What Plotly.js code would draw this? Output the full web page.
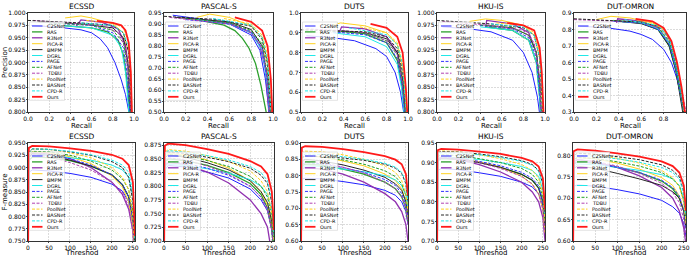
<!DOCTYPE html>
<html>
<head>
<meta charset="utf-8">
<script src="https://cdn.plot.ly/plotly-3.0.1.min.js"></script>
<style>html,body{margin:0;padding:0;background:#fff}#chart{width:690px;height:257px}svg text{-webkit-font-smoothing:grayscale;}</style>
</head>
<body>
<div id="chart"></div>
<script>
// ---------------- DATA ----------------
const methods = ['C2SNet','RAS','R3Net','PiCA-R','BMPM','DGRL','PAGE','AFNet','TDBU','PoolNet','BASNet','CPD-R','Ours'];
const datasets = ['ECSSD','PASCAL-S','DUTS','HKU-IS','DUT-OMRON'];

// PR curves: per method [recall[], precision[]]
const prECSSD = [
  [[0.03,0.3,0.5,0.6,0.68,0.75,0.82,0.88,0.92,0.95,0.97],[0.975,0.971,0.966,0.96,0.948,0.93,0.9,0.865,0.835,0.805,0.78]],
  [[0.3,0.6,0.75,0.85,0.9,0.93,0.95,0.96],[0.975,0.97,0.962,0.945,0.915,0.87,0.82,0.78]],
  [[0.45,0.5,0.7,0.85,0.92,0.95,0.965,0.97],[0.972,0.986,0.981,0.968,0.935,0.885,0.82,0.78]],
  [[0.35,0.5,0.6,0.8,0.9,0.95,0.97,0.98],[0.99,0.994,0.99,0.978,0.96,0.92,0.85,0.78]],
  [[0.1,0.5,0.8,0.9,0.94,0.96,0.97],[0.982,0.978,0.97,0.95,0.9,0.82,0.78]],
  [[0.3,0.6,0.8,0.88,0.92,0.95,0.96],[0.975,0.97,0.955,0.93,0.88,0.8,0.78]],
  [[0.2,0.6,0.8,0.9,0.94,0.96,0.965],[0.98,0.975,0.96,0.93,0.87,0.8,0.78]],
  [[0.2,0.6,0.8,0.9,0.95,0.965,0.97],[0.98,0.976,0.965,0.94,0.88,0.8,0.78]],
  [[0.05,0.4,0.7,0.85,0.92,0.96,0.97,0.975],[0.985,0.98,0.975,0.96,0.93,0.85,0.8,0.78]],
  [[0.55,0.8,0.9,0.95,0.97,0.98,0.985],[0.985,0.98,0.97,0.94,0.88,0.8,0.78]],
  [[0.0,0.5,0.8,0.9,0.95,0.97,0.975,0.98],[0.985,0.98,0.975,0.96,0.92,0.85,0.8,0.78]],
  [[0.5,0.8,0.9,0.95,0.97,0.98,0.985],[0.98,0.975,0.96,0.93,0.87,0.8,0.78]],
  [[0.65,0.8,0.88,0.92,0.95,0.97,0.98,0.985],[0.984,0.98,0.975,0.965,0.94,0.88,0.8,0.78]]
];
const prPASCAL = [
  [[0.08,0.3,0.6,0.8,0.88,0.93,0.96,0.965],[0.94,0.925,0.9,0.85,0.78,0.65,0.52,0.48]],
  [[0.3,0.55,0.65,0.72,0.78,0.84,0.89,0.93,0.945],[0.92,0.895,0.87,0.835,0.79,0.72,0.62,0.52,0.48]],
  [[0.35,0.6,0.8,0.88,0.93,0.96,0.965],[0.92,0.905,0.86,0.8,0.7,0.52,0.48]],
  [[0.3,0.42,0.6,0.8,0.9,0.95,0.98,0.985],[0.93,0.945,0.93,0.89,0.84,0.72,0.52,0.48]],
  [[0.1,0.6,0.8,0.9,0.95,0.97,0.975],[0.93,0.91,0.875,0.8,0.65,0.52,0.48]],
  [[0.3,0.6,0.8,0.9,0.95,0.965,0.97],[0.92,0.9,0.86,0.78,0.62,0.52,0.48]],
  [[0.2,0.6,0.8,0.9,0.95,0.965,0.97],[0.92,0.9,0.865,0.79,0.63,0.52,0.48]],
  [[0.2,0.6,0.8,0.9,0.95,0.97,0.975],[0.925,0.905,0.87,0.81,0.67,0.52,0.48]],
  [[0.05,0.6,0.8,0.9,0.95,0.97,0.975],[0.93,0.9,0.86,0.79,0.65,0.52,0.48]],
  [[0.55,0.8,0.9,0.95,0.98,0.985,0.99],[0.925,0.9,0.85,0.76,0.55,0.5,0.48]],
  [[0.0,0.5,0.8,0.9,0.95,0.98,0.985],[0.935,0.92,0.89,0.83,0.72,0.52,0.48]],
  [[0.45,0.8,0.9,0.95,0.98,0.985],[0.925,0.895,0.84,0.74,0.52,0.48]],
  [[0.65,0.8,0.9,0.95,0.98,0.99,0.995],[0.93,0.91,0.87,0.8,0.65,0.52,0.48]]
];
const prDUTS = [
  [[0.05,0.3,0.5,0.7,0.8,0.88,0.93,0.96,0.965],[0.885,0.875,0.86,0.82,0.78,0.7,0.6,0.52,0.48]],
  [[0.35,0.6,0.8,0.9,0.94,0.965,0.97],[0.91,0.895,0.85,0.76,0.65,0.52,0.48]],
  [[0.36,0.38,0.6,0.8,0.9,0.95,0.97,0.975],[0.905,0.93,0.92,0.88,0.8,0.65,0.52,0.48]],
  [[0.3,0.37,0.6,0.8,0.9,0.95,0.98,0.985],[0.94,0.95,0.935,0.9,0.84,0.72,0.52,0.48]],
  [[0.38,0.6,0.8,0.9,0.95,0.97,0.975],[0.91,0.9,0.87,0.8,0.66,0.52,0.48]],
  [[0.3,0.6,0.8,0.9,0.94,0.96,0.965],[0.9,0.88,0.83,0.74,0.62,0.52,0.48]],
  [[0.3,0.6,0.8,0.9,0.95,0.965,0.97],[0.905,0.89,0.85,0.77,0.62,0.52,0.48]],
  [[0.25,0.6,0.8,0.9,0.95,0.97,0.975],[0.91,0.9,0.86,0.79,0.66,0.52,0.48]],
  [[0.05,0.4,0.6,0.8,0.9,0.95,0.97,0.975],[0.92,0.91,0.9,0.86,0.79,0.65,0.52,0.48]],
  [[0.55,0.8,0.9,0.95,0.98,0.985,0.99],[0.93,0.9,0.85,0.75,0.55,0.5,0.48]],
  [[0.0,0.4,0.6,0.8,0.9,0.95,0.975,0.98],[0.915,0.91,0.905,0.88,0.82,0.7,0.52,0.48]],
  [[0.45,0.8,0.9,0.95,0.98,0.985],[0.925,0.89,0.84,0.74,0.52,0.48]],
  [[0.65,0.8,0.9,0.95,0.98,0.99,0.995],[0.945,0.925,0.88,0.8,0.62,0.52,0.48]]
];
const prHKU = [
  [[0.05,0.3,0.5,0.7,0.8,0.88,0.93,0.95,0.96],[0.972,0.968,0.962,0.945,0.92,0.88,0.83,0.8,0.78]],
  [[0.45,0.7,0.85,0.92,0.95,0.96,0.965],[0.972,0.965,0.945,0.9,0.83,0.8,0.78]],
  [[0.45,0.46,0.7,0.85,0.92,0.95,0.96,0.965],[0.97,0.985,0.978,0.96,0.92,0.86,0.8,0.78]],
  [[0.3,0.45,0.6,0.8,0.9,0.95,0.97,0.98,0.985],[0.983,0.988,0.985,0.975,0.955,0.91,0.85,0.8,0.78]],
  [[0.45,0.7,0.85,0.92,0.95,0.965,0.97],[0.975,0.97,0.955,0.92,0.86,0.8,0.78]],
  [[0.4,0.7,0.85,0.92,0.95,0.96,0.965],[0.972,0.965,0.945,0.9,0.83,0.8,0.78]],
  [[0.4,0.7,0.85,0.92,0.95,0.965,0.97],[0.975,0.968,0.95,0.91,0.84,0.8,0.78]],
  [[0.4,0.7,0.85,0.92,0.955,0.965,0.97],[0.976,0.97,0.955,0.92,0.85,0.8,0.78]],
  [[0.05,0.5,0.8,0.9,0.95,0.965,0.97],[0.983,0.975,0.965,0.94,0.87,0.8,0.78]],
  [[0.55,0.8,0.9,0.95,0.975,0.985,0.99],[0.98,0.975,0.96,0.92,0.85,0.8,0.78]],
  [[0.0,0.5,0.8,0.9,0.95,0.975,0.98,0.985],[0.985,0.978,0.97,0.955,0.91,0.83,0.8,0.78]],
  [[0.5,0.8,0.9,0.95,0.975,0.985,0.99],[0.978,0.972,0.955,0.91,0.84,0.8,0.78]],
  [[0.65,0.8,0.9,0.95,0.97,0.985,0.99],[0.98,0.975,0.965,0.93,0.88,0.8,0.78]]
];
const prOMRON = [
  [[0.05,0.3,0.5,0.6,0.7,0.8,0.87,0.92,0.96,0.98,0.985],[0.82,0.81,0.79,0.77,0.74,0.68,0.6,0.5,0.38,0.3,0.28]],
  [[0.4,0.6,0.75,0.85,0.91,0.95,0.98,0.985],[0.85,0.84,0.8,0.7,0.55,0.4,0.3,0.28]],
  [[0.38,0.39,0.6,0.75,0.85,0.92,0.96,0.98,0.985],[0.84,0.865,0.85,0.81,0.72,0.55,0.4,0.3,0.28]],
  [[0.2,0.33,0.5,0.7,0.8,0.88,0.93,0.97,0.99,0.995],[0.86,0.88,0.87,0.84,0.8,0.7,0.55,0.4,0.3,0.28]],
  [[0.4,0.6,0.75,0.85,0.91,0.95,0.97,0.975],[0.85,0.835,0.8,0.7,0.55,0.4,0.3,0.28]],
  [[0.4,0.6,0.75,0.85,0.91,0.95,0.98,0.985],[0.85,0.84,0.805,0.72,0.57,0.42,0.3,0.28]],
  [[0.35,0.6,0.75,0.85,0.91,0.95,0.98,0.985],[0.85,0.84,0.8,0.71,0.56,0.42,0.3,0.28]],
  [[0.35,0.6,0.75,0.85,0.91,0.95,0.98,0.985],[0.855,0.845,0.815,0.73,0.58,0.43,0.3,0.28]],
  [[0.0,0.4,0.6,0.8,0.88,0.93,0.97,1.0],[0.86,0.85,0.845,0.8,0.7,0.55,0.4,0.3]],
  [[0.55,0.75,0.85,0.91,0.95,0.98,0.985],[0.86,0.83,0.76,0.62,0.47,0.3,0.28]],
  [[0.0,0.3,0.6,0.75,0.85,0.91,0.95,0.98,0.985],[0.865,0.855,0.845,0.82,0.75,0.6,0.45,0.3,0.28]],
  [[0.45,0.75,0.85,0.91,0.95,0.985,0.99],[0.86,0.825,0.75,0.6,0.45,0.3,0.28]],
  [[0.55,0.7,0.8,0.87,0.92,0.96,0.99,0.995],[0.865,0.85,0.81,0.73,0.6,0.45,0.3,0.28]]
];

// F-measure vs threshold: shared thresholds, per-method values
const thresholds = [0,2,10,50,100,150,200,225,240,250,255];
const fECSSD = [
  [0.70,0.89,0.895,0.893,0.888,0.88,0.866,0.852,0.83,0.79,0.72],
  [0.70,0.915,0.921,0.92,0.914,0.903,0.885,0.865,0.84,0.79,0.72],
  [0.70,0.92,0.93,0.928,0.918,0.9,0.87,0.845,0.815,0.77,0.70],
  [0.70,0.925,0.932,0.93,0.922,0.908,0.883,0.86,0.83,0.78,0.70],
  [0.70,0.92,0.928,0.925,0.915,0.903,0.885,0.865,0.84,0.8,0.73],
  [0.70,0.92,0.925,0.925,0.92,0.915,0.905,0.895,0.88,0.84,0.75],
  [0.70,0.92,0.926,0.925,0.918,0.905,0.885,0.865,0.84,0.79,0.72],
  [0.70,0.925,0.933,0.932,0.925,0.913,0.895,0.877,0.855,0.81,0.73],
  [0.70,0.92,0.925,0.922,0.91,0.895,0.87,0.85,0.82,0.77,0.70],
  [0.70,0.93,0.938,0.937,0.93,0.92,0.9,0.88,0.855,0.8,0.72],
  [0.70,0.93,0.938,0.937,0.932,0.925,0.912,0.9,0.88,0.83,0.74],
  [0.70,0.93,0.938,0.937,0.933,0.926,0.915,0.905,0.89,0.85,0.75],
  [0.70,0.94,0.944,0.943,0.939,0.934,0.926,0.918,0.905,0.87,0.76]
];
const fPASCAL = [
  [0.65,0.83,0.838,0.835,0.826,0.815,0.795,0.775,0.755,0.72,0.68],
  [0.65,0.845,0.85,0.847,0.838,0.825,0.805,0.785,0.76,0.72,0.68],
  [0.65,0.838,0.843,0.84,0.826,0.806,0.775,0.75,0.725,0.69,0.65],
  [0.65,0.855,0.86,0.857,0.848,0.833,0.81,0.79,0.765,0.73,0.69],
  [0.65,0.852,0.857,0.853,0.843,0.83,0.81,0.79,0.77,0.735,0.69],
  [0.65,0.835,0.84,0.838,0.832,0.824,0.812,0.8,0.785,0.755,0.70],
  [0.65,0.84,0.845,0.842,0.833,0.82,0.8,0.78,0.76,0.72,0.68],
  [0.65,0.852,0.858,0.855,0.847,0.836,0.818,0.8,0.78,0.745,0.70],
  [0.65,0.848,0.852,0.848,0.837,0.822,0.8,0.78,0.755,0.72,0.68],
  [0.65,0.862,0.867,0.864,0.856,0.845,0.828,0.81,0.79,0.75,0.70],
  [0.65,0.858,0.862,0.86,0.853,0.845,0.833,0.82,0.805,0.77,0.71],
  [0.65,0.86,0.865,0.862,0.856,0.848,0.836,0.825,0.81,0.775,0.71],
  [0.65,0.874,0.878,0.875,0.868,0.859,0.846,0.836,0.822,0.79,0.72]
];
const fDUTS = [
  [0.55,0.79,0.792,0.79,0.782,0.772,0.755,0.74,0.72,0.69,0.65],
  [0.55,0.83,0.835,0.832,0.82,0.805,0.78,0.76,0.735,0.70,0.66],
  [0.55,0.82,0.825,0.82,0.805,0.78,0.745,0.72,0.69,0.65,0.60],
  [0.55,0.855,0.86,0.857,0.845,0.83,0.805,0.785,0.76,0.72,0.67],
  [0.55,0.845,0.85,0.845,0.833,0.817,0.795,0.775,0.755,0.72,0.68],
  [0.55,0.825,0.83,0.828,0.82,0.812,0.8,0.787,0.77,0.74,0.70],
  [0.55,0.835,0.84,0.836,0.825,0.81,0.788,0.77,0.745,0.71,0.67],
  [0.55,0.855,0.86,0.858,0.848,0.835,0.815,0.797,0.775,0.74,0.69],
  [0.55,0.84,0.845,0.84,0.826,0.808,0.78,0.76,0.735,0.70,0.65],
  [0.55,0.87,0.875,0.873,0.864,0.85,0.83,0.81,0.785,0.745,0.69],
  [0.55,0.855,0.86,0.859,0.854,0.847,0.835,0.823,0.807,0.775,0.72],
  [0.55,0.86,0.866,0.865,0.858,0.85,0.838,0.826,0.81,0.78,0.72],
  [0.55,0.886,0.89,0.888,0.881,0.872,0.86,0.849,0.835,0.805,0.74]
];
const fHKU = [
  [0.65,0.88,0.885,0.882,0.874,0.865,0.85,0.838,0.82,0.79,0.74],
  [0.65,0.905,0.91,0.908,0.9,0.888,0.87,0.855,0.835,0.8,0.74],
  [0.65,0.905,0.912,0.908,0.895,0.876,0.85,0.825,0.8,0.76,0.70],
  [0.65,0.91,0.915,0.912,0.902,0.888,0.865,0.845,0.82,0.78,0.72],
  [0.65,0.908,0.913,0.91,0.9,0.888,0.87,0.855,0.835,0.8,0.74],
  [0.65,0.91,0.913,0.912,0.908,0.9,0.89,0.88,0.865,0.83,0.76],
  [0.65,0.91,0.913,0.911,0.903,0.892,0.875,0.86,0.84,0.8,0.74],
  [0.65,0.915,0.92,0.918,0.91,0.9,0.885,0.87,0.85,0.81,0.75],
  [0.65,0.91,0.913,0.91,0.9,0.885,0.865,0.845,0.82,0.78,0.72],
  [0.65,0.925,0.93,0.928,0.92,0.91,0.895,0.88,0.86,0.82,0.75],
  [0.65,0.925,0.928,0.927,0.922,0.915,0.905,0.895,0.88,0.845,0.77],
  [0.65,0.92,0.925,0.924,0.92,0.913,0.903,0.893,0.878,0.845,0.77],
  [0.65,0.932,0.935,0.933,0.928,0.922,0.912,0.903,0.89,0.86,0.78]
];
const fOMRON = [
  [0.55,0.728,0.731,0.728,0.72,0.71,0.695,0.68,0.665,0.64,0.61],
  [0.55,0.78,0.785,0.782,0.772,0.76,0.74,0.722,0.70,0.67,0.63],
  [0.55,0.785,0.79,0.785,0.772,0.752,0.725,0.70,0.67,0.63,0.59],
  [0.55,0.79,0.795,0.792,0.782,0.768,0.748,0.73,0.705,0.67,0.63],
  [0.55,0.77,0.775,0.77,0.758,0.745,0.73,0.715,0.70,0.67,0.63],
  [0.55,0.775,0.78,0.778,0.772,0.765,0.755,0.745,0.73,0.70,0.65],
  [0.55,0.78,0.785,0.782,0.772,0.76,0.742,0.725,0.705,0.67,0.63],
  [0.55,0.79,0.795,0.793,0.785,0.775,0.76,0.745,0.728,0.695,0.65],
  [0.55,0.785,0.79,0.786,0.775,0.758,0.735,0.713,0.69,0.65,0.61],
  [0.55,0.80,0.805,0.802,0.793,0.782,0.765,0.748,0.728,0.69,0.64],
  [0.55,0.80,0.805,0.803,0.797,0.79,0.778,0.765,0.75,0.715,0.66],
  [0.55,0.795,0.80,0.798,0.792,0.784,0.772,0.76,0.745,0.71,0.66],
  [0.55,0.81,0.814,0.811,0.805,0.797,0.786,0.775,0.76,0.73,0.67]
];

// ---------------- STYLE ----------------
const colors = ['#2020ff','#2ca02c','#9030b0','#ffd21f','#262626','#20e8e8','#3333ff','#22a022','#b040b0','#ffd21f','#262626','#20e8e8','#ff1a1a'];
const dashes = ['solid','solid','solid','solid','solid','solid','3px,1.5px','3px,1.5px','3px,1.5px','3px,1.5px','3px,1.5px','3px,1.5px','solid'];
const widths = [1,1.3,1.3,1,1,1,1,1,1,1,1,1,1.8];

const W = 690, H = 257;
const topX = [[28,134],[164,273],[301,408],[437,545],[574,686]];
const botX = [[28,135],[164,274],[301,408],[437,545],[573,686]];
const topY = [13,112], botY = [143,241];
const prSets = [prECSSD, prPASCAL, prDUTS, prHKU, prOMRON];
const fSets = [fECSSD, fPASCAL, fDUTS, fHKU, fOMRON];
const prYRange = [[0.8,1.0],[0.5,0.95],[0.5,1.0],[0.8,1.0],[0.3,0.9]];
const prYTick = [[0.025,'.3f'],[0.05,'.2f'],[0.1,'.1f'],[0.025,'.3f'],[0.1,'.1f']];
const fYRange = [[0.75,0.95],[0.70,0.879],[0.60,0.90],[0.70,0.95],[0.60,0.829]];
const fYTick = [[0.025,'.3f'],[0.025,'.3f'],[0.05,'.2f'],[0.05,'.2f'],[0.05,'.2f']];

const px = v => v / W;
const py = v => 1 - v / H;
const FONT = 'DejaVu Sans, Liberation Sans, sans-serif';

const axCommon = {
  color: '#000',
  showline: true, mirror: true, linecolor: '#000', linewidth: 0.8,
  ticks: 'outside', ticklen: 1.5, tickwidth: 0.7, tickcolor: '#000',
  ticklabelstandoff: -1,
  showgrid: true, gridcolor: '#b8b8b8', gridwidth: 0.5, griddash: '1.5px,1.5px',
  zeroline: false, fixedrange: true,
  tickfont: {family: FONT, size: 6, color: '#000'}
};

const traces = [];
const layout = {
  width: W, height: H, margin: {l:0, r:0, t:0, b:0},
  paper_bgcolor: '#fff', plot_bgcolor: '#fff', showlegend: false,
  font: {family: FONT, color: '#000'},
  shapes: [], annotations: []
};

function addPanel(k, xpx, ypx, xrange, xdtick, xfmt, yrange, ydtick, yfmt, series, title, xtitle, ytitle, xtOff) {
  const xa = 'xaxis' + (k === 1 ? '' : k), ya = 'yaxis' + (k === 1 ? '' : k);
  const xid = 'x' + (k === 1 ? '' : k), yid = 'y' + (k === 1 ? '' : k);
  layout[xa] = Object.assign({}, axCommon, {
    domain: [px(xpx[0]), px(xpx[1])], anchor: yid, range: xrange,
    tick0: 0, dtick: xdtick, tickformat: xfmt
  });
  layout[ya] = Object.assign({}, axCommon, {
    domain: [py(ypx[1]), py(ypx[0])], anchor: xid, range: yrange,
    tick0: 0, dtick: ydtick, tickformat: yfmt
  });
  series.forEach((s, i) => {
    traces.push({
      x: s[0], y: s[1], xaxis: xid, yaxis: yid, type: 'scatter', mode: 'lines',
      line: {color: colors[i], width: widths[i], dash: dashes[i]},
      hoverinfo: 'skip', showlegend: false
    });
  });
  layout.annotations.push({
    text: title, xref: 'paper', yref: 'paper',
    x: px((xpx[0] + xpx[1]) / 2), y: py(ypx[0] - 6.5), xanchor: 'center', yanchor: 'middle',
    showarrow: false, font: {family: FONT, size: 7.5, color: '#000'}
  });
  layout.annotations.push({
    text: xtitle, xref: 'paper', yref: 'paper',
    x: px((xpx[0] + xpx[1]) / 2), y: py(ypx[1] + xtOff), xanchor: 'center', yanchor: 'middle',
    showarrow: false, font: {family: FONT, size: 7, color: '#000'}
  });
  if (ytitle) {
    layout.annotations.push({
      text: ytitle, xref: 'paper', yref: 'paper', textangle: -90,
      x: px(4.5), y: py((ypx[0] + ypx[1]) / 2), xanchor: 'center', yanchor: 'middle',
      showarrow: false, font: {family: FONT, size: 7, color: '#000'}
    });
  }
  // legend (drawn manually: box, sample lines, labels)
  const L = xpx[0] + 1.5, T = ypx[0] + 9, step = 5.9, n = methods.length;
  const B = T + 4 + (n - 1) * step + 3.5;
  layout.shapes.push({
    type: 'rect', xref: 'paper', yref: 'paper', layer: 'above',
    x0: px(L), x1: px(L + 35), y0: py(B), y1: py(T),
    fillcolor: 'rgba(255,255,255,0.82)', line: {color: '#d0d0d0', width: 0.6}
  });
  methods.forEach((m, i) => {
    const yy = T + 4 + i * step;
    layout.shapes.push({
      type: 'line', xref: 'paper', yref: 'paper', layer: 'above',
      x0: px(L + 2.5), x1: px(L + 13), y0: py(yy), y1: py(yy),
      line: {color: colors[i], width: widths[i], dash: dashes[i]}
    });
    layout.annotations.push({
      text: m, xref: 'paper', yref: 'paper', x: px(L + 15.5), y: py(yy),
      xanchor: 'left', yanchor: 'middle', showarrow: false,
      font: {family: FONT, size: 4.9, color: '#000'}
    });
  });
}

for (let i = 0; i < 5; i++) {
  addPanel(i + 1, topX[i], topY, [0, 1], 0.2, '.1f', prYRange[i], prYTick[i][0], prYTick[i][1],
    prSets[i], datasets[i], 'Recall', i === 0 ? 'Precision' : null, 13.5);
}
for (let i = 0; i < 5; i++) {
  const series = fSets[i].map(v => [thresholds, v]);
  addPanel(i + 6, botX[i], botY, [0, 255], 50, 'd', fYRange[i], fYTick[i][0], fYTick[i][1],
    series, datasets[i], 'Threshod', i === 0 ? 'F-measure' : null, 11.8);
}

Plotly.newPlot('chart', traces, layout, {staticPlot: true, displayModeBar: false});
</script>
</body>
</html>
